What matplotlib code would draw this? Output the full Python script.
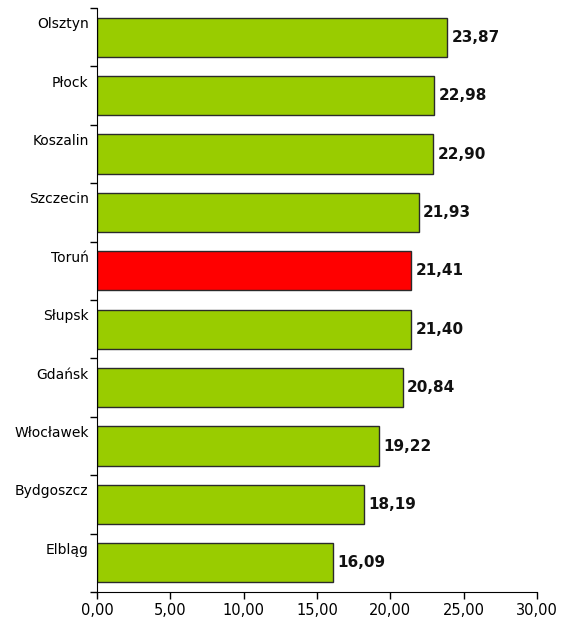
import matplotlib

matplotlib.use("Agg")

import matplotlib.pyplot as plt
from matplotlib.ticker import FuncFormatter


CITIES = [
    "Olsztyn",
    "Płock",
    "Koszalin",
    "Szczecin",
    "Toruń",
    "Słupsk",
    "Gdańsk",
    "Włocławek",
    "Bydgoszcz",
    "Elbląg",
]
VALUES = [23.87, 22.98, 22.90, 21.93, 21.41, 21.40, 20.84, 19.22, 18.19, 16.09]
HIGHLIGHT = "Toruń"

GREEN = "#99cc00"
RED = "#ff0000"


def pl_number(value: float, _pos=None) -> str:
    return f"{value:.2f}".replace(".", ",")


def main() -> None:
    fig = plt.figure(figsize=(5.62, 6.27), dpi=100)
    ax = fig.add_axes([0.1726, 0.0558, 0.7829, 0.9314])

    positions = list(range(len(CITIES)))[::-1]
    colors = [RED if city == HIGHLIGHT else GREEN for city in CITIES]
    ax.barh(positions, VALUES, height=0.67, color=colors, edgecolor="#2a2a2a", linewidth=1.0)

    for pos, value in zip(positions, VALUES):
        ax.text(value + 0.3, pos, pl_number(value), va="center", ha="left",
                fontsize=11, fontweight="bold", color="#111111")

    ax.set_xlim(0, 30)
    ax.set_ylim(-0.5, len(CITIES) - 0.5)
    ax.set_xticks(range(0, 31, 5))
    ax.xaxis.set_major_formatter(FuncFormatter(pl_number))

    # category ticks sit between the bars, labels in the upper part of each band
    ax.set_yticks([p - 0.5 for p in range(len(CITIES) + 1)])
    ax.set_yticklabels([])
    ax.set_yticks([p + 0.25 for p in positions], minor=True)
    ax.set_yticklabels(CITIES, minor=True)
    ax.tick_params(axis="y", which="minor", length=0, pad=6, labelsize=10)
    ax.tick_params(axis="y", which="major", length=5, width=1, direction="out")
    ax.tick_params(axis="x", length=5, width=1, direction="out", labelsize=10.5, pad=3)

    ax.spines["top"].set_visible(False)
    ax.spines["right"].set_visible(False)

    fig.savefig("out.png", dpi=100)
    plt.close(fig)


if __name__ == "__main__":
    main()
